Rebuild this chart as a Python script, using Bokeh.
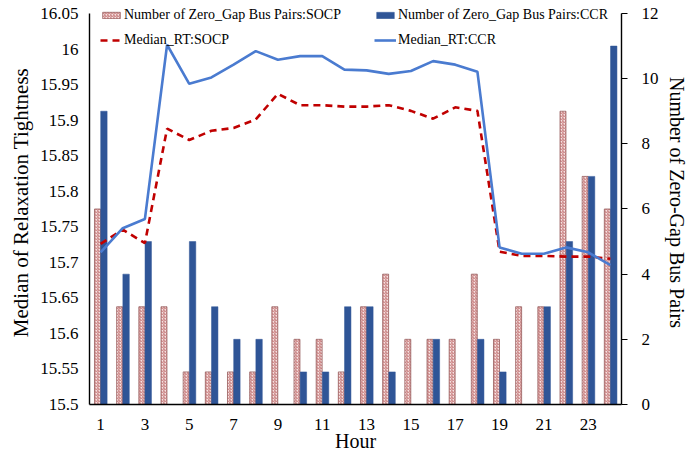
from bokeh.plotting import figure
from bokeh.models import (Range1d, LinearAxis, FixedTicker, CustomJSTickFormatter,
                          Legend, LegendItem, ColumnDataSource)
from bokeh.transform import dodge
from bokeh.embed import file_html
from bokeh.resources import INLINE

hours = list(range(1, 25))
zero_gap_socp = [6, 3, 3, 3, 1, 1, 1, 1, 3, 2, 2, 1, 3, 4, 2, 2, 2, 4, 2, 3, 3, 9, 7, 6]
zero_gap_ccr = [9, 4, 5, 0, 5, 3, 2, 2, 0, 1, 1, 3, 3, 1, 0, 2, 0, 2, 1, 0, 3, 5, 7, 11]
median_rt_socp = [15.726, 15.746, 15.727, 15.888, 15.872, 15.885, 15.889, 15.901,
                  15.937, 15.921, 15.921, 15.919, 15.919, 15.921, 15.913, 15.902,
                  15.918, 15.913, 15.715, 15.709, 15.709, 15.708, 15.708, 15.705]
median_rt_ccr = [15.714, 15.748, 15.761, 16.006, 15.951, 15.960, 15.978, 15.997,
                 15.985, 15.990, 15.990, 15.971, 15.970, 15.965, 15.969, 15.983,
                 15.978, 15.968, 15.721, 15.712, 15.712, 15.721, 15.714, 15.696]
x_ticks = [1, 3, 5, 7, 9, 11, 13, 15, 17, 19, 21, 23]
left_ticks = [15.5, 15.55, 15.6, 15.65, 15.7, 15.75, 15.8, 15.85, 15.9, 15.95, 16.0, 16.05]
right_ticks = [0, 2, 4, 6, 8, 10, 12]

FONT = "Liberation Serif"
W, H = 690, 454
BL, BR, BT, BB = 89, 63, 0, 49
TOP_PAD = 13  # empty pixels between frame top and the top ticks (room for the legend)

frame_h = H - BT - BB
pad_frac = TOP_PAD / (frame_h - TOP_PAD)
y_lo, y_hi = left_ticks[0], left_ticks[-1]
c_lo, c_hi = right_ticks[0], right_ticks[-1]

src = ColumnDataSource(dict(hour=hours, socp=zero_gap_socp, ccr=zero_gap_ccr,
                            rt_socp=median_rt_socp, rt_ccr=median_rt_ccr))

p = figure(width=W, height=H, output_backend="svg", toolbar_location=None,
           x_range=Range1d(0.5, 24.5),
           y_range=Range1d(y_lo, y_hi + (y_hi - y_lo) * pad_frac),
           min_border_left=BL, min_border_right=BR, min_border_top=BT, min_border_bottom=BB)
p.extra_y_ranges = {"count": Range1d(c_lo, c_hi + (c_hi - c_lo) * pad_frac)}
p.outline_line_color = None
p.grid.visible = False
p.background_fill_color = "white"

b1 = p.vbar(x=dodge("hour", -0.14, range=p.x_range), top="socp", width=0.27, source=src,
            y_range_name="count", fill_color="#f6e2e2", line_color="#8c5050", line_width=0.7,
            hatch_pattern="right_diagonal_line", hatch_color="#b85a5a", hatch_scale=3,
            hatch_weight=0.8)
b2 = p.vbar(x=dodge("hour", 0.15, range=p.x_range), top="ccr", width=0.29, source=src,
            y_range_name="count", fill_color="#2f5597", line_color="#2f5597", line_width=0.5)
l1 = p.line("hour", "rt_socp", source=src, line_color="#c00000", line_width=2.6,
            line_dash="7 5")
l2 = p.line("hour", "rt_ccr", source=src, line_color="#4a7bd0", line_width=2.6)

# axes
xa = p.xaxis[0]
xa.ticker = FixedTicker(ticks=x_ticks)
xa.axis_label = "Hour"
ya = p.yaxis[0]
ya.ticker = FixedTicker(ticks=left_ticks)
ya.formatter = CustomJSTickFormatter(code="return Number(tick.toFixed(2)).toString();")
ya.axis_label = "Median of Relaxation Tightness"
ya.bounds = (y_lo, y_hi)

ra = LinearAxis(y_range_name="count", ticker=FixedTicker(ticks=right_ticks),
                axis_label="Number of Zero-Gap Bus Pairs", bounds=(c_lo, c_hi))
p.add_layout(ra, "right")

for ax in (xa, ya, ra):
    ax.axis_line_color = "black"
    ax.axis_line_width = 1.4
    ax.minor_tick_line_color = None
    ax.major_label_text_font = FONT
    ax.axis_label_text_font = FONT
    ax.axis_label_text_font_style = "normal"
    ax.major_label_text_color = "black"
    ax.axis_label_text_color = "black"

xa.major_tick_line_color = None
xa.major_tick_out = 0
xa.major_tick_in = 0
xa.major_label_standoff = 14
xa.major_label_text_font_size = "17px"
xa.axis_label_text_font_size = "20px"
xa.axis_label_standoff = -3

ya.major_tick_line_color = None
ya.major_tick_out = 0
ya.major_tick_in = 0
ya.major_label_standoff = 11
ya.major_label_text_font_size = "17px"
ya.axis_label_text_font_size = "21px"
ya.axis_label_standoff = 4

ra.major_tick_in = 0
ra.major_tick_out = 6
ra.major_tick_line_color = "black"
ra.major_tick_line_width = 1
ra.major_label_standoff = 14
ra.major_label_text_font_size = "17px"
ra.axis_label_text_font_size = "20px"
ra.axis_label_standoff = 4

legend_style = dict(label_text_font=FONT, label_text_font_size="14px",
                    label_text_color="black", glyph_width=22, glyph_height=8,
                    label_standoff=2, label_height=25, spacing=0, padding=0, margin=0,
                    border_line_color=None, background_fill_alpha=0)
legend_socp = Legend(items=[
    LegendItem(label="Number of Zero_Gap Bus Pairs:SOCP", renderers=[b1]),
    LegendItem(label="Median_RT:SOCP", renderers=[l1]),
], location=(11, frame_h - 53), **legend_style)
legend_ccr = Legend(items=[
    LegendItem(label="Number of Zero_Gap Bus Pairs:CCR", renderers=[b2]),
    LegendItem(label="Median_RT:CCR", renderers=[l2]),
], location=(285, frame_h - 53), **legend_style)
p.add_layout(legend_socp, "center")
p.add_layout(legend_ccr, "center")

open("out.html", "w").write(file_html(p, INLINE))
